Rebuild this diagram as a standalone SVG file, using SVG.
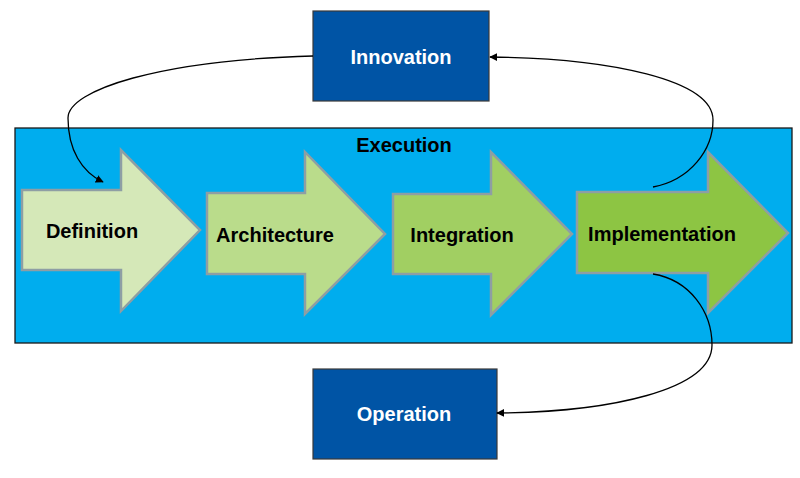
<svg xmlns="http://www.w3.org/2000/svg" width="800" height="478" viewBox="0 0 800 478">
<style>
.lbl{font-family:"Liberation Sans",Arial,sans-serif;font-weight:bold;font-size:20px;fill:#000}
.wlbl{font-family:"Liberation Sans",Arial,sans-serif;font-weight:bold;font-size:20px;fill:#fff}
.box{fill:#0054A5;stroke:#3a3a3a;stroke-width:1.2}
.arr{stroke:#8E9EA4;stroke-width:2.5}
.conn{fill:none;stroke:#000;stroke-width:1.3}
</style>
<defs>
<marker id="ah" viewBox="0 0 10 10" refX="9" refY="5" markerWidth="8" markerHeight="8" markerUnits="userSpaceOnUse" orient="auto">
<path d="M0,0 L10,5 L0,10 z" fill="#000"/>
</marker>
</defs>
<rect width="800" height="478" fill="#fff"/>
<g id="execution">
<rect x="15" y="128" width="777" height="215" fill="#00ADEE" stroke="#1a1a1a" stroke-width="1.3"/>
<text class="lbl" x="404" y="152" text-anchor="middle">Execution</text>
</g>
<g id="definition">
<polygon class="arr" fill="#D5E8B8" points="22,190 121,190 121,150 200,230 121,311 121,270 22,270"/>
<text class="lbl" x="92" y="238" text-anchor="middle">Definition</text>
</g>
<g id="architecture">
<polygon class="arr" fill="#BADC8B" points="207,193 305,193 305,152 385,234 305,314 305,274 207,274"/>
<text class="lbl" x="275" y="242" text-anchor="middle">Architecture</text>
</g>
<g id="integration">
<polygon class="arr" fill="#A1CF62" points="393,194 491,194 491,152 572,234 491,315 491,274 393,274"/>
<text class="lbl" x="462" y="242" text-anchor="middle">Integration</text>
</g>
<g id="implementation">
<polygon class="arr" fill="#8DC543" points="577,192 708,192 708,152 788,233 708,313 708,273 577,273"/>
<text class="lbl" x="662" y="241" text-anchor="middle">Implementation</text>
</g>
<g id="innovation">
<rect class="box" x="313" y="11" width="176" height="90"/>
<text class="wlbl" x="401" y="64" text-anchor="middle">Innovation</text>
</g>
<g id="operation">
<rect class="box" x="313" y="369" width="184" height="90"/>
<text class="wlbl" x="404" y="421" text-anchor="middle">Operation</text>
</g>
<g id="connectors">
<path class="conn" marker-end="url(#ah)" d="M313,56 C160,60 68,90 68,118 C68,150 82,172 103,182"/>
<path class="conn" marker-end="url(#ah)" d="M653,187 C690,180 713,150 713,120 C713,80 610,58 490,57"/>
<path class="conn" marker-end="url(#ah)" d="M653,274 C690,280 712,312 712,345 C712,390 610,412 497,413"/>
</g>
</svg>
